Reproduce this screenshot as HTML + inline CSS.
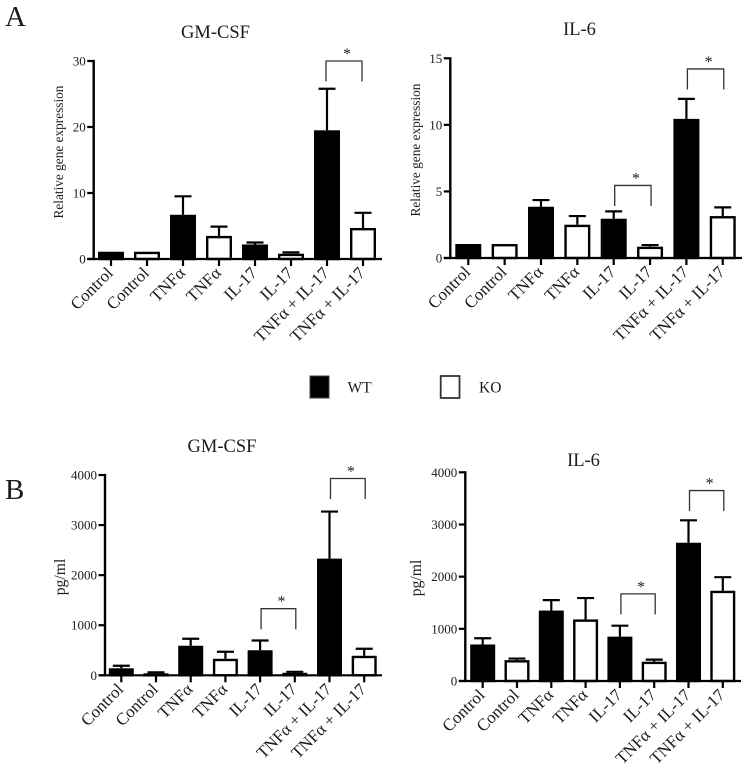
<!DOCTYPE html>
<html>
<head>
<meta charset="utf-8">
<title>Gene expression and protein levels</title>
<style>
html,body{margin:0;padding:0;background:#fff;}
svg{display:block;font-family:"Liberation Serif","DejaVu Serif",serif;}
text{fill:#1c1c1c;}
</style>
</head>
<body>
<svg id="figure" xmlns="http://www.w3.org/2000/svg" width="750" height="770" viewBox="0 0 750 770">
  <text x="5" y="26" font-size="29">A</text>
  <text x="5" y="499" font-size="29">B</text>
  <g>
    <rect x="310" y="376" width="19" height="22" fill="#000" stroke="#444" stroke-width="1"/>
    <text x="347.500" y="392.500" font-size="15.500">WT</text>
    <rect x="440.700" y="376" width="18.800" height="22" fill="#fff" stroke="#333" stroke-width="1.800"/>
    <text x="479" y="392.500" font-size="15.500">KO</text>
  </g>
</svg>
<script>
const categories = ["Control", "TNFα", "IL-17", "TNFα + IL-17"];

const geneGmCsfTicks = [0, 10, 20, 30];
const geneGmCsfWT = [1.1, 6.7, 2.2, 19.5];
const geneGmCsfKO = [1.1, 3.5, 0.8, 4.7];
const geneGmCsfWTTop = [1.1, 9.5, 2.5, 25.8];
const geneGmCsfKOTop = [1.1, 4.9, 1.0, 7.0];
const geneGmCsfBrackets = [[6, 7, 30]];

const geneIl6Ticks = [0, 5, 10, 15];
const geneIl6WT = [1.05, 3.85, 2.95, 10.45];
const geneIl6KO = [1.05, 2.5, 0.85, 3.15];
const geneIl6WTTop = [1.05, 4.35, 3.5, 11.95];
const geneIl6KOTop = [1.05, 3.15, 0.97, 3.8];
const geneIl6Brackets = [[4, 5, 5.45], [6, 7, 14.2]];

const proteinGmCsfTicks = [0, 1000, 2000, 3000, 4000];
const proteinGmCsfWT = [140, 590, 500, 2330];
const proteinGmCsfKO = [40, 330, 50, 390];
const proteinGmCsfWTTop = [190, 730, 695, 3270];
const proteinGmCsfKOTop = [60, 470, 70, 530];
const proteinGmCsfBrackets = [[4, 5, 1330], [6, 7, 3930]];

const proteinIl6Ticks = [0, 1000, 2000, 3000, 4000];
const proteinIl6WT = [700, 1350, 850, 2650];
const proteinIl6KO = [400, 1180, 370, 1730];
const proteinIl6WTTop = [820, 1550, 1060, 3080];
const proteinIl6KOTop = [430, 1590, 410, 1990];
const proteinIl6Brackets = [[4, 5, 1670], [6, 7, 3650]];

const svg = document.getElementById('figure');
const NS = 'http://www.w3.org/2000/svg';

function mk(tag, parent, attrs, content) {
  const el = document.createElementNS(NS, tag);
  for (const k in attrs) el.setAttribute(k, attrs[k]);
  if (content !== undefined) el.textContent = content;
  parent.appendChild(el);
  return el;
}

function drawPanel(p) {
  const yScale = v => p.y0 - (v / p.max) * (p.y0 - p.yTop);
  const xScale = i => p.cx0 + i * p.step;

  const group = mk('g', svg, {});
  
  

  const title = mk('text', group, {x: p.titleX, y: p.titleY, 'font-size': 18.5, 'text-anchor': 'middle'}, p.title);
  
  

  const yTitle = mk('text', group, {
    transform: 'translate(' + p.yTitleX + ' ' + p.yTitleY + ') rotate(-90)',
    'font-size': p.yTitleSize, 'text-anchor': 'middle'
  }, p.yTitle);
  
  

  const barW = p.barW, sw = 2.4;
  for (let c = 0; c < categories.length; c++) {
    [0, 1].forEach(function (s) {
      const i = c * 2 + s;
      const cx = xScale(i);
      const mean = (s === 0 ? p.wt : p.ko)[c];
      const top = (s === 0 ? p.wtTop : p.koTop)[c];

      if (top > mean) {
        const errLine = mk('line', group, {x1: cx, x2: cx, y1: yScale(mean), y2: yScale(top), stroke: '#000', 'stroke-width': 2.2});
        
        

        const errCap = mk('line', group, {x1: cx - 8.500, x2: cx + 8.500, y1: yScale(top), y2: yScale(top), stroke: '#000', 'stroke-width': 2.2});
        
        
      }

      const barTop = yScale(mean) + sw / 2;
      const bar = mk('rect', group, {
        x: cx - barW / 2 + sw / 2,
        y: barTop,
        width: barW - sw,
        height: Math.max(0, p.y0 - barTop),
        fill: s === 0 ? '#000' : '#fff',
        stroke: '#000',
        'stroke-width': sw
      });
      
      

      const tick = mk('line', group, {x1: cx, x2: cx, y1: p.y0, y2: p.y0 + 7, stroke: '#000', 'stroke-width': 2.2});
      
      

      const lx = cx + 3, ly = p.y0 + 15;
      const label = mk('text', group, {
        transform: 'translate(' + lx + ' ' + ly + ') rotate(-45)',
        'font-size': 17, 'text-anchor': 'end'
      }, categories[c]);
      
      
    });
  }

  const xAxis = mk('line', group, {x1: p.axisX - 6.500, x2: p.axisEnd, y1: p.y0, y2: p.y0, stroke: '#000', 'stroke-width': 2.2});
  
  

  const yAxis = mk('line', group, {x1: p.axisX, x2: p.axisX, y1: yScale(p.ticks[p.ticks.length - 1]) - 1.100, y2: p.y0 + 1.100, stroke: '#000', 'stroke-width': 2.4});
  
  

  p.ticks.forEach(function (t) {
    const yTick = mk('line', group, {x1: p.axisX - 6.500, x2: p.axisX, y1: yScale(t), y2: yScale(t), stroke: '#000', 'stroke-width': 2.2});
    
    

    const yLabel = mk('text', group, {x: p.axisX - 8, y: yScale(t) + 4.500, 'font-size': 13, 'text-anchor': 'end'}, String(t));
    
    
  });

  p.brackets.forEach(function (b) {
    const xa = xScale(b[0]) + p.bracketDx, xb = xScale(b[1]) + p.bracketDx;
    const yb = yScale(b[2]);
    const bracket = mk('path', group, {
      d: 'M' + xa + ' ' + (yb + 20.500) + 'V' + yb + 'H' + xb + 'V' + (yb + 20.500),
      fill: 'none', stroke: '#333', 'stroke-width': 1.300
    });
    
    

    const star = mk('text', group, {x: (xa + xb) / 2 + 3, y: yb - 2, 'font-size': 16, 'text-anchor': 'middle'}, '*');
    
    
  });
}

drawPanel({
  title: 'GM-CSF', titleX: 215.500, titleY: 38,
  yTitle: 'Relative gene expression', yTitleX: 63, yTitleY: 152, yTitleSize: 13.300,
  max: 30, ticks: geneGmCsfTicks,
  wt: geneGmCsfWT, ko: geneGmCsfKO, wtTop: geneGmCsfWTTop, koTop: geneGmCsfKOTop, brackets: geneGmCsfBrackets,
  axisX: 93.700, axisEnd: 382, y0: 259, yTop: 61, cx0: 111, step: 36, barW: 26, bracketDx: -1
});

drawPanel({
  title: 'IL-6', titleX: 579.500, titleY: 35,
  yTitle: 'Relative gene expression', yTitleX: 420, yTitleY: 150, yTitleSize: 13.300,
  max: 15, ticks: geneIl6Ticks,
  wt: geneIl6WT, ko: geneIl6KO, wtTop: geneIl6WTTop, koTop: geneIl6KOTop, brackets: geneIl6Brackets,
  axisX: 450.300, axisEnd: 742, y0: 258, yTop: 58.300, cx0: 468.300, step: 36.350, barW: 26, bracketDx: 1
});

drawPanel({
  title: 'GM-CSF', titleX: 222, titleY: 452,
  yTitle: 'pg/ml', yTitleX: 65, yTitleY: 577, yTitleSize: 15.700,
  max: 4000, ticks: proteinGmCsfTicks,
  wt: proteinGmCsfWT, ko: proteinGmCsfKO, wtTop: proteinGmCsfWTTop, koTop: proteinGmCsfKOTop, brackets: proteinGmCsfBrackets,
  axisX: 105, axisEnd: 382, y0: 675.300, yTop: 475, cx0: 121.300, step: 34.700, barW: 25, bracketDx: 1
});

drawPanel({
  title: 'IL-6', titleX: 583.500, titleY: 466,
  yTitle: 'pg/ml', yTitleX: 421, yTitleY: 578, yTitleSize: 15.700,
  max: 4000, ticks: proteinIl6Ticks,
  wt: proteinIl6WT, ko: proteinIl6KO, wtTop: proteinIl6WTTop, koTop: proteinIl6KOTop, brackets: proteinIl6Brackets,
  axisX: 465.300, axisEnd: 741, y0: 681, yTop: 472.300, cx0: 482.700, step: 34.300, barW: 25, bracketDx: 1
});
</script>
</body>
</html>
